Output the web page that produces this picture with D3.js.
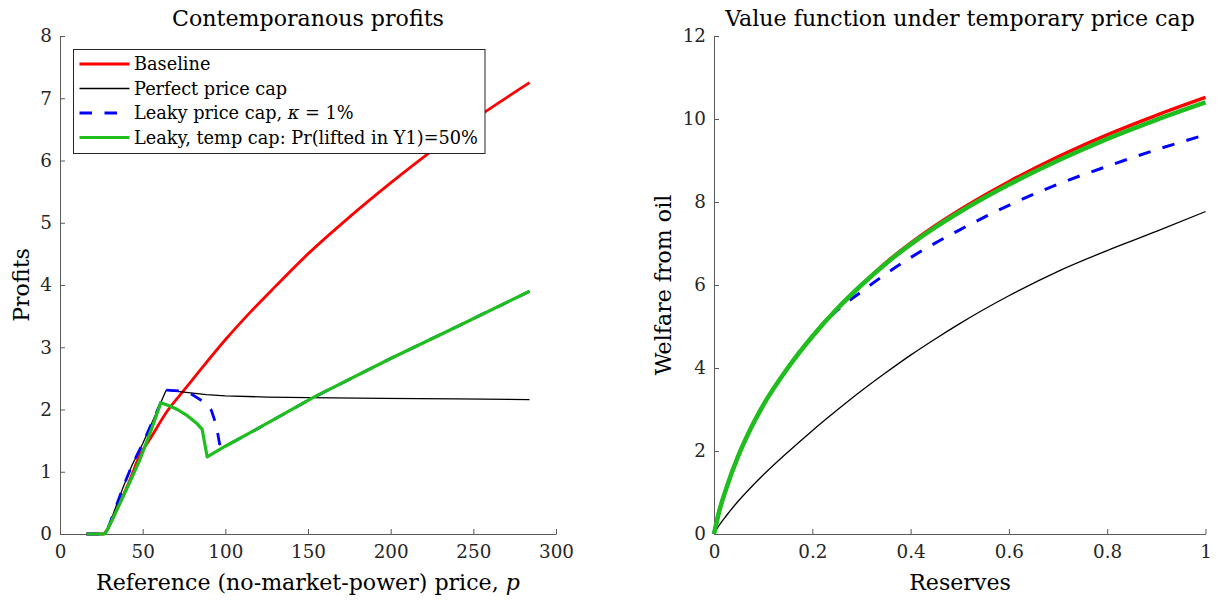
<!DOCTYPE html>
<html>
<head>
<meta charset="utf-8">
<script src="https://cdn.jsdelivr.net/npm/d3@7"></script>
<style>
  body { margin: 0; background: #fff; }
  svg { font-family: "DejaVu Serif", "Liberation Serif", "Times New Roman", serif; }
</style>
</head>
<body>
<div id="container"></div>
<script>
/* CONSTANTS AND GLOBALS */
const width = 1224;
const height = 602;

/* DATA - left panel: profits against reference price p */
const baselineP      = [16, 20, 26, 28, 35, 42, 48, 55, 65, 75, 85, 100, 115, 130, 150, 175, 200, 225, 250, 284];
const baselineProfit = [0, 0, 0, 0.05, 0.43, 0.85, 1.25, 1.55, 1.98, 2.31, 2.64, 3.12, 3.56, 3.97, 4.5, 5.09, 5.64, 6.16, 6.65, 7.25];

const perfectP      = [16, 20, 27, 28.5, 33, 38.3, 43.3, 50, 57, 64.2, 75, 88.5, 100, 125, 150, 195, 240, 284];
const perfectProfit = [0, 0, 0, 0.05, 0.38, 0.76, 1.09, 1.45, 1.87, 2.31, 2.28, 2.24, 2.22, 2.2, 2.19, 2.18, 2.17, 2.16];

const leakyP      = [16, 20, 27, 28.5, 33, 38.3, 43.3, 50, 57, 64.2, 72, 80, 86.5, 91.5, 94.5, 96.5, 98, 120, 153, 200, 240, 284];
const leakyProfit = [0, 0, 0, 0.05, 0.38, 0.76, 1.09, 1.45, 1.87, 2.31, 2.3, 2.24, 2.13, 1.99, 1.75, 1.45, 1.38, 1.7, 2.19, 2.82, 3.33, 3.9];

const tempP      = [16, 20, 27, 28.5, 35, 42, 48.4, 55, 61, 66, 71, 77, 83, 86, 89, 100, 120, 153, 200, 240, 284];
const tempProfit = [0, 0, 0, 0.06, 0.42, 0.82, 1.2, 1.66, 2.11, 2.06, 2.0, 1.9, 1.77, 1.68, 1.24, 1.41, 1.7, 2.19, 2.82, 3.33, 3.9];

const priceTicks  = [0, 50, 100, 150, 200, 250, 300];
const profitTicks = [0, 1, 2, 3, 4, 5, 6, 7, 8];

/* DATA - right panel: welfare against reserves */
const reserves      = [0, 0.01, 0.025, 0.05, 0.075, 0.1, 0.15, 0.2, 0.25, 0.3, 0.35, 0.4, 0.45, 0.5, 0.6, 0.7, 0.8, 0.9, 1];
const baselineValue = [0, 0.52, 1.1, 1.9, 2.55, 3.1, 4.0, 4.76, 5.42, 6.0, 6.54, 7.01, 7.43, 7.81, 8.49, 9.09, 9.62, 10.09, 10.52];
const perfectValue  = [0, 0.2, 0.44, 0.8, 1.12, 1.42, 1.97, 2.49, 2.98, 3.45, 3.89, 4.31, 4.7, 5.07, 5.74, 6.33, 6.83, 7.29, 7.77];
const leakyValue    = [0, 0.52, 1.1, 1.9, 2.55, 3.1, 4.0, 4.76, 5.38, 5.84, 6.27, 6.66, 7.01, 7.33, 7.92, 8.43, 8.86, 9.26, 9.62];
const tempValue     = [0, 0.52, 1.1, 1.9, 2.55, 3.1, 4.0, 4.76, 5.42, 6.0, 6.52, 6.98, 7.39, 7.76, 8.42, 9.0, 9.52, 9.98, 10.4];

const reserveTicks = [0, 0.2, 0.4, 0.6, 0.8, 1];
const welfareTicks = [0, 2, 4, 6, 8, 10, 12];

const seriesNames = ["Baseline", "Perfect price cap", "Leaky price cap, κ = 1%", "Leaky, temp cap: Pr(lifted in Y1)=50%"];
const colors = ["#ff0000", "#000000", "#0000ff", "#1ebe1e"];

/* SVG */
const svg = d3.select("#container")
  .append("svg")
  .attr("width", width)
  .attr("height", height);

// pick a font size so a sample string gets the width it has in the reference
function fitSize(sample, target) {
  const t = svg.append("text").style("font-size", "20px").text(sample);
  const w = t.node().getComputedTextLength();
  t.remove();
  return 20 * target / w;
}
const tickSize = fitSize("300", 35);
const labelSize = fitSize("Contemporanous profits", 272);
const legendSize = fitSize("Leaky, temp cap: Pr(lifted in Y1)=50%", 344);

/* SCALES */
const xLeft = d3.scaleLinear().domain([0, 300]).range([60, 556]);
const yLeft = d3.scaleLinear().domain([0, 8]).range([534, 36]);
const xRight = d3.scaleLinear().domain([0, 1]).range([714, 1205.5]);
const yRight = d3.scaleLinear().domain([0, 12]).range([534, 36]);

// matlab style axes: ticks inside, no box
function drawAxes(x, y, xTicks, yTicks) {
  const gx = svg.append("g")
    .attr("transform", `translate(0, ${y.range()[0]})`)
    .call(d3.axisBottom(x).tickValues(xTicks).tickFormat(d => String(d))
      .tickSize(-5).tickSizeOuter(0).tickPadding(11));
  const gy = svg.append("g")
    .attr("transform", `translate(${x.range()[0]}, 0)`)
    .call(d3.axisLeft(y).tickValues(yTicks).tickFormat(d => String(d))
      .tickSize(-5).tickSizeOuter(0).tickPadding(8));
  [gx, gy].forEach(g => {
    g.attr("font-family", null).attr("font-size", null);
    g.selectAll("path, line").attr("stroke", "#5a5a5a").attr("stroke-width", 1);
    g.selectAll("text").attr("fill", "#262626").style("font-size", tickSize + "px");
  });
}

drawAxes(xLeft, yLeft, priceTicks, profitTicks);
drawAxes(xRight, yRight, reserveTicks, welfareTicks);

/* LINES */
function drawLine(xs, ys, x, y, color, w, dash, curve) {
  const pts = xs.map((d, i) => [d, ys[i]]);
  const line = d3.line().x(d => x(d[0])).y(d => y(d[1])).curve(curve);
  svg.append("path")
    .datum(pts)
    .attr("d", line)
    .attr("fill", "none")
    .attr("stroke", color)
    .attr("stroke-width", w)
    .attr("stroke-linejoin", "round")
    .attr("stroke-dasharray", dash);
}

// left panel
drawLine(baselineP, baselineProfit, xLeft, yLeft, colors[0], 2.8, null, d3.curveMonotoneX);
drawLine(perfectP, perfectProfit, xLeft, yLeft, colors[1], 1.3, null, d3.curveLinear);
drawLine(leakyP, leakyProfit, xLeft, yLeft, colors[2], 2.8, "12.5,12.5", d3.curveLinear);
drawLine(tempP, tempProfit, xLeft, yLeft, colors[3], 3.2, null, d3.curveLinear);

// right panel
drawLine(reserves, baselineValue, xRight, yRight, colors[0], 3.5, null, d3.curveMonotoneX);
drawLine(reserves, perfectValue, xRight, yRight, colors[1], 1.3, null, d3.curveMonotoneX);
drawLine(reserves, leakyValue, xRight, yRight, colors[2], 3, "12.5,12.5", d3.curveMonotoneX);
drawLine(reserves, tempValue, xRight, yRight, colors[3], 4.5, null, d3.curveMonotoneX);

/* TITLES AND LABELS */
const labelStyle = g => g.attr("fill", "#000").style("font-size", labelSize + "px");

svg.append("text").attr("x", 308).attr("y", 26).attr("text-anchor", "middle")
  .call(labelStyle).text("Contemporanous profits");
svg.append("text").attr("x", 960).attr("y", 26).attr("text-anchor", "middle")
  .call(labelStyle).text("Value function under temporary price cap");

const xl = svg.append("text").attr("x", 308).attr("y", 590).attr("text-anchor", "middle").call(labelStyle);
xl.append("tspan").text("Reference (no-market-power) price, ");
xl.append("tspan").style("font-style", "italic").text("p");

svg.append("text").attr("x", 960).attr("y", 590).attr("text-anchor", "middle")
  .call(labelStyle).text("Reserves");

svg.append("text").attr("transform", "translate(29, 285) rotate(-90)").attr("text-anchor", "middle")
  .call(labelStyle).text("Profits");
svg.append("text").attr("transform", "translate(671, 285) rotate(-90)").attr("text-anchor", "middle")
  .call(labelStyle).text("Welfare from oil");

/* LEGEND */
const legend = svg.append("g");
legend.append("rect")
  .attr("x", 73.5).attr("y", 49.5).attr("width", 411.5).attr("height", 104)
  .attr("fill", "#fff").attr("stroke", "#262626").attr("stroke-width", 1);

const legendWidths = [2.8, 1.3, 2.8, 3.2];
seriesNames.forEach((name, i) => {
  const cy = 64 + i * 24.5;
  legend.append("line")
    .attr("x1", 79.5).attr("x2", 129.5).attr("y1", cy).attr("y2", cy)
    .attr("stroke", colors[i]).attr("stroke-width", legendWidths[i])
    .attr("stroke-dasharray", i === 2 ? "12.5,12.5" : null);
  const t = legend.append("text").attr("x", 134).attr("y", cy).attr("dy", "0.35em")
    .attr("fill", "#000").style("font-size", legendSize + "px");
  if (i === 2) {
    t.append("tspan").text("Leaky price cap, ");
    t.append("tspan").style("font-style", "italic").text("κ");
    t.append("tspan").text(" = 1%");
  } else {
    t.text(name);
  }
});
</script>
</body>
</html>
